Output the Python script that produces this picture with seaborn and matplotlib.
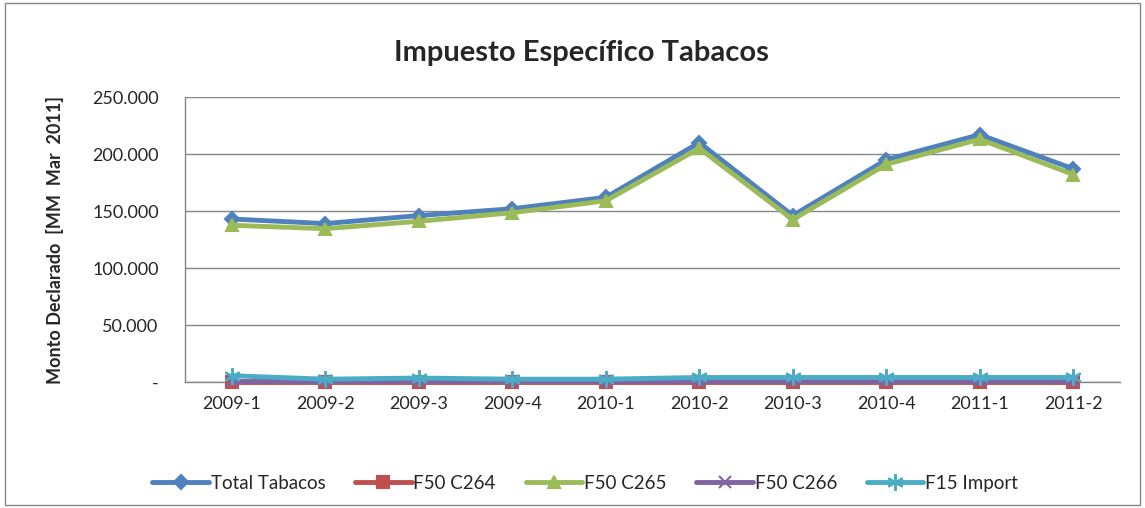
import matplotlib
matplotlib.use("Agg")
import matplotlib.pyplot as plt
import matplotlib.patches as mpatches
from matplotlib.ticker import FuncFormatter, FixedLocator
import seaborn as sns
import pandas as pd

# datos del grafico (MM Mar 2011)
periodos = ["2009-1", "2009-2", "2009-3", "2009-4", "2010-1",
            "2010-2", "2010-3", "2010-4", "2011-1", "2011-2"]
total_tabacos = [143000, 139000, 146000, 152000, 162000, 210000, 146000, 195000, 217000, 187000]
f50_c264 = [0, 0, 0, 0, 0, 0, 0, 0, 0, 0]
f50_c265 = [137500, 134500, 141000, 148500, 159000, 205000, 142500, 191000, 213000, 182000]
f50_c266 = [500, 500, 500, 500, 500, 500, 500, 500, 500, 500]
f15_import = [5500, 2500, 3500, 2500, 2500, 4000, 4000, 4000, 4000, 4000]

series = [
    ("Total Tabacos", total_tabacos, "#4F81BD", "D", 7),
    ("F50 C264", f50_c264, "#C0504D", "s", 8),
    ("F50 C265", f50_c265, "#9BBB59", "^", 9),
    ("F50 C266", f50_c266, "#8064A2", "x", 8),
    ("F15 Import", f15_import, "#4BACC6", (6, 2, 0), 12),
]

sns.set_style("white")
plt.rcParams["font.family"] = ["Lato", "DejaVu Sans"]

fig = plt.figure(figsize=(11.45, 5.08), dpi=100)
ax = fig.add_axes([0.1616, 0.248, 0.8166, 0.561])

x = list(range(len(periodos)))
for i, (nombre, valores, color, marcador, tam) in enumerate(series):
    df = pd.DataFrame({"x": x, "y": valores})
    sns.lineplot(data=df, x="x", y="y", ax=ax, color=color, linewidth=3.5,
                 marker=marcador, markersize=tam, markeredgecolor=color,
                 markeredgewidth=1.5, label=nombre, clip_on=False, zorder=3 + i)

ax.set_xlim(-0.5, len(periodos) - 0.5)
ax.set_ylim(0, 250000)
ax.set_yticks([0, 50000, 100000, 150000, 200000, 250000])
ax.yaxis.set_major_formatter(FuncFormatter(
    lambda v, p: "-" if v == 0 else f"{int(v):,}".replace(",", ".")))
ax.set_xticks(x)
ax.set_xticklabels(periodos)
ax.xaxis.set_minor_locator(FixedLocator([i - 0.5 for i in range(len(periodos) + 1)]))
ax.tick_params(axis="x", which="major", length=0, pad=10, labelsize=13)
ax.tick_params(axis="x", which="minor", length=5, color="#868686", direction="out")
ax.tick_params(axis="y", length=5, color="#868686", direction="out", labelsize=13, pad=14)
ax.grid(axis="y", color="#868686", linewidth=1)
for s in ["top", "right"]:
    ax.spines[s].set_visible(False)
for s in ["left", "bottom"]:
    ax.spines[s].set_color("#868686")
    ax.spines[s].set_linewidth(1)
ax.set_xlabel("")
ax.set_ylabel("Monto Declarado  [MM  Mar  2011]", fontsize=13, fontweight="bold", labelpad=20)
fig.text(0.508, 0.895, "Impuesto Específico Tabacos", fontsize=21, fontweight="bold",
         ha="center", va="center")

ax.legend(loc="center", bbox_to_anchor=(0.428, -0.355), ncol=5, frameon=False,
          fontsize=13.5, handlelength=3.0, handletextpad=0.1, columnspacing=1.6)

fig.patches.append(mpatches.Rectangle((0.004, 0.006), 0.992, 0.988, transform=fig.transFigure,
                                      fill=False, edgecolor="#868686", linewidth=1))

fig.savefig("out.png", dpi=100)
